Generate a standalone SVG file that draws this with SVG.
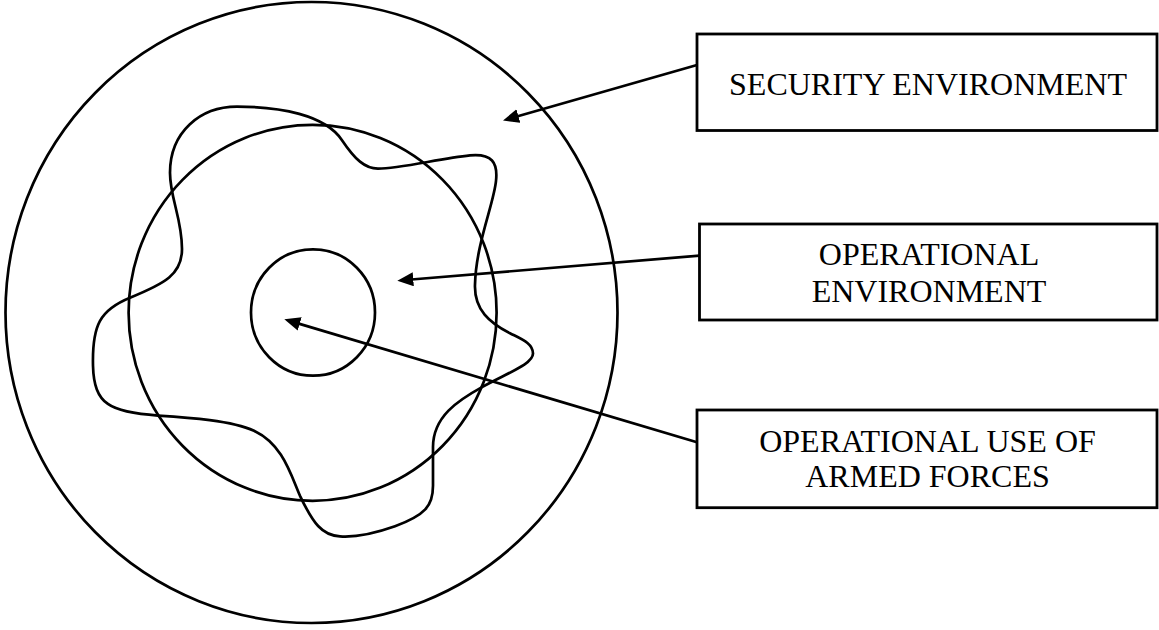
<svg xmlns="http://www.w3.org/2000/svg" width="1159" height="630" viewBox="0 0 1159 630">
<style>
.ring{fill:none;stroke:#000;stroke-width:2.7}
.box{fill:#fff;stroke:#000;stroke-width:2.8}
.lbl{font-family:"Liberation Serif","Times New Roman",serif;font-size:32px;fill:#000;text-anchor:middle}
.conn{fill:none;stroke:#000;stroke-width:2.7}
</style>
<defs>
<marker id="ah" markerUnits="userSpaceOnUse" markerWidth="18" markerHeight="16" refX="8" refY="7" orient="auto">
<path d="M0,0 L16,7 L0,14 Z" fill="#000"/>
</marker>
</defs>
<rect width="1159" height="630" fill="#fff"/>
<g id="rings">
<ellipse id="security-ring" class="ring" cx="311.5" cy="312.5" rx="306" ry="310.5"/>
<ellipse id="operational-ring" class="ring" cx="312.6" cy="312.8" rx="184" ry="188"/>
<ellipse id="armed-forces-ring" class="ring" cx="313" cy="312.5" rx="62" ry="63.2"/>
<path id="wavy" class="ring" transform="scale(1 1.016)" d="M170,170 C170,130 200,105 237,105 C280,105 325,113 342,138 C355,157 365,166 378,166 C400,166 440,156 470,153 C492,151 498,160 496,178 C494,200 476,240 475,280 C474,305 490,318 510,328 C522,334 533,338 533,348 C533,358 510,366 482,381 C458,394 433,410 433,440 L433,478 C433,498 425,507 395,518 C375,525 355,529 340,528 C322,527 313,515 300,488 C290,465 282,437 254,424 C232,414 190,411 158,409 C110,406 94,398 93,360 C92,320 100,305 130,293 C165,279 182,270 182,245 C182,215 170,195 170,170 Z"/>
</g>
<g id="node-security">
<rect class="box" x="697" y="34" width="460" height="96.5"/>
<text class="lbl" x="928" y="95">SECURITY ENVIRONMENT</text>
</g>
<g id="node-operational">
<rect class="box" x="699.5" y="224" width="457.5" height="96"/>
<text class="lbl" x="929" y="265">OPERATIONAL</text>
<text class="lbl" x="929" y="301.7">ENVIRONMENT</text>
</g>
<g id="node-armed">
<rect class="box" x="697" y="410" width="460" height="97.7"/>
<text class="lbl" x="927.5" y="451.7">OPERATIONAL USE OF</text>
<text class="lbl" x="927.5" y="487.3">ARMED FORCES</text>
</g>
<g id="connectors">
<line class="conn" x1="697" y1="65" x2="510.7" y2="118.3" marker-end="url(#ah)"/>
<line class="conn" x1="699.5" y1="255.7" x2="405.3" y2="280" marker-end="url(#ah)"/>
<line class="conn" x1="697" y1="442.3" x2="292" y2="321.6" marker-end="url(#ah)"/>
</g>
</svg>
